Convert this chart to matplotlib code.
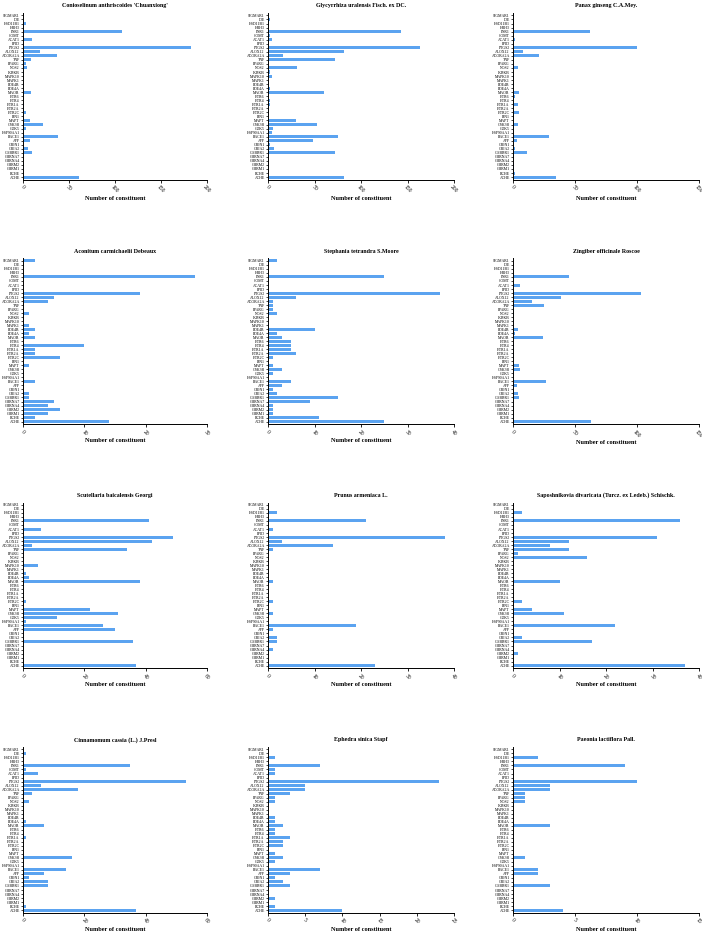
import matplotlib
matplotlib.use('Agg')
import matplotlib.pyplot as plt
import numpy as np

plt.rcParams['font.family'] = ['Liberation Serif', 'DejaVu Serif']

genes = ['SIGMAR1', 'IDE', 'HSD11B1', 'HRH3', 'ESR1', 'COMT', 'ACAT1', 'PPID',
         'PTGS2', 'ALOX12', 'ADORA2A', 'TNF', 'PPARG', 'NOS2', 'IKBKB', 'MAPK10',
         'MAPK1', 'PDE4B', 'PDE4A', 'MAOB', 'HTR6', 'HTR4', 'HTR1A', 'HTR2A',
         'HTR2C', 'PIN1', 'MAPT', 'GSK3B', 'CDK5', 'HSP90AA1', 'BACE1', 'APP',
         'GRIN1', 'GRIA2', 'GABBR1', 'CHRNA7', 'CHRNA4', 'CHRM2', 'CHRM1', 'BCHE',
         'ACHE']

# number of constituents per target, one list per herb (same order as genes)
chuanxiong = [0, 0, 3, 0, 108, 1, 10, 0, 183, 18, 37, 9, 3, 4, 1, 0, 0, 0, 0, 9,
              0, 0, 1, 1, 3, 0, 8, 22, 3, 0, 38, 8, 0, 5, 10, 0, 0, 1, 0, 0, 61]
glycyrrhiza = [0, 2, 0, 0, 143, 2, 4, 0, 163, 82, 16, 72, 0, 31, 2, 4, 0, 0, 2, 60,
               0, 2, 2, 1, 1, 0, 30, 53, 5, 4, 75, 48, 2, 6, 72, 0, 0, 0, 0, 0, 82]
panax = [1, 0, 0, 1, 62, 0, 2, 1, 100, 8, 21, 1, 0, 4, 0, 1, 0, 1, 0, 5,
         2, 0, 4, 0, 5, 1, 0, 4, 1, 0, 29, 3, 0, 2, 11, 1, 0, 1, 1, 2, 35]
aconitum = [2, 0, 0, 0, 28, 0, 0, 0, 19, 5, 4, 0, 0, 1, 0, 0, 1, 2, 1, 2,
            0, 10, 2, 2, 6, 0, 1, 0, 0, 0, 2, 0, 0, 1, 1, 5, 4, 6, 4, 2, 14]
stephania = [2, 0, 0, 0, 25, 0, 0, 0, 37, 6, 1, 1, 1, 2, 0, 0, 0, 10, 2, 3,
             5, 5, 5, 6, 1, 0, 1, 3, 1, 0, 5, 3, 1, 2, 15, 9, 1, 1, 1, 11, 25]
zingiber = [0, 0, 0, 0, 45, 0, 6, 1, 103, 39, 15, 25, 1, 1, 0, 1, 0, 4, 2, 24,
            0, 1, 1, 1, 1, 0, 5, 6, 1, 0, 27, 3, 1, 4, 5, 0, 0, 1, 0, 1, 63]
scutellaria = [0, 0, 0, 0, 41, 0, 6, 0, 49, 42, 3, 34, 0, 0, 0, 5, 0, 1, 2, 38,
               0, 0, 0, 0, 1, 0, 22, 31, 11, 1, 26, 30, 0, 0, 36, 0, 0, 0, 0, 0, 37]
prunus = [0, 0, 2, 0, 21, 0, 1, 0, 38, 3, 14, 1, 0, 0, 0, 0, 0, 0, 0, 1,
          0, 0, 0, 0, 1, 0, 0, 1, 0, 0, 19, 1, 0, 2, 2, 0, 1, 0, 0, 0, 23]
saposhnikovia = [0, 0, 2, 0, 36, 0, 0, 0, 31, 12, 8, 12, 1, 16, 0, 0, 0, 0, 0, 10,
                 0, 0, 0, 0, 2, 0, 4, 11, 0, 0, 22, 0, 0, 2, 17, 0, 0, 1, 0, 0, 37]
cinnamomum = [0, 1, 0, 0, 35, 1, 5, 0, 53, 6, 18, 3, 0, 2, 0, 0, 0, 0, 1, 7,
              0, 0, 1, 0, 0, 0, 0, 16, 0, 0, 14, 7, 2, 8, 8, 0, 0, 0, 0, 1, 37]
ephedra = [0, 0, 1, 0, 7, 1, 1, 0, 23, 5, 5, 3, 1, 1, 0, 0, 0, 1, 1, 2,
           1, 1, 3, 2, 2, 0, 1, 2, 1, 0, 7, 3, 1, 2, 3, 0, 0, 1, 0, 1, 10]
paeonia = [0, 0, 2, 0, 9, 0, 0, 0, 10, 3, 3, 1, 1, 1, 0, 0, 0, 0, 0, 3,
           0, 0, 0, 0, 0, 0, 0, 1, 0, 0, 2, 2, 0, 0, 3, 0, 0, 0, 0, 0, 4]

titles = ["Conioselinum anthriscoides 'Chuanxiong'", 'Glycyrrhiza uralensis Fisch. ex DC.',
          'Panax ginseng C.A.Mey.', 'Aconitum carmichaelii Debeaux',
          'Stephania tetrandra S.Moore', 'Zingiber officinale Roscoe',
          'Scutellaria baicalensis Georgi', 'Prunus armeniaca L.',
          'Saposhnikovia divaricata (Turcz. ex Ledeb.) Schischk.',
          'Cinnamomum cassia (L.) J.Presl', 'Ephedra sinica Stapf',
          'Paeonia lactiflora Pall.']
herb_values = [chuanxiong, glycyrrhiza, panax, aconitum, stephania, zingiber,
               scutellaria, prunus, saposhnikovia, cinnamomum, ephedra, paeonia]
x_max = [200, 200, 150, 30, 40, 150, 60, 40, 40, 60, 25, 15]
x_step = [50, 50, 50, 10, 10, 50, 20, 10, 10, 20, 5, 5]

W, H = 702, 936
fig = plt.figure(figsize=(W / 100, H / 100), dpi=100)

# axes boxes in pixels
cols = [(23, 207), (268, 454), (513, 699)]
rows = [(13, 179.5), (258.5, 424), (502.5, 668), (747, 912.5)]

bar_color = '#5ba3f0'
y = np.arange(len(genes))

for i, (title, vals) in enumerate(zip(titles, herb_values)):
    r, c = divmod(i, 3)
    x0, x1 = cols[c]
    y0, y1 = rows[r]
    ax = fig.add_axes([x0 / W, 1 - y1 / H, (x1 - x0) / W, (y1 - y0) / H])

    ax.barh(y, vals, height=0.75, color=bar_color)
    ax.set_xlim(0, x_max[i])
    ax.set_ylim(len(genes) - 0.4, -0.6)

    ax.set_yticks(y)
    ax.set_yticklabels(genes, fontsize=2.8)
    ax.tick_params(axis='y', length=1.5, width=0.5, pad=0.8)

    ticks = np.arange(0, x_max[i] + x_step[i], x_step[i])
    ax.set_xticks(ticks)
    ax.set_xticklabels([str(t) for t in ticks], fontsize=4, rotation=-45,
                       ha='center', va='top')
    ax.tick_params(axis='x', length=2, width=0.6, pad=1.5)

    for side in ['top', 'right']:
        ax.spines[side].set_visible(False)
    for side in ['left', 'bottom']:
        ax.spines[side].set_linewidth(0.7)

    ax.set_title(title, fontsize=4.3, fontweight='bold', pad=4)
    ax.set_xlabel('Number of constituent', fontsize=4.5, fontweight='bold',
                  labelpad=1.5)

fig.savefig('out.png', dpi=100)
